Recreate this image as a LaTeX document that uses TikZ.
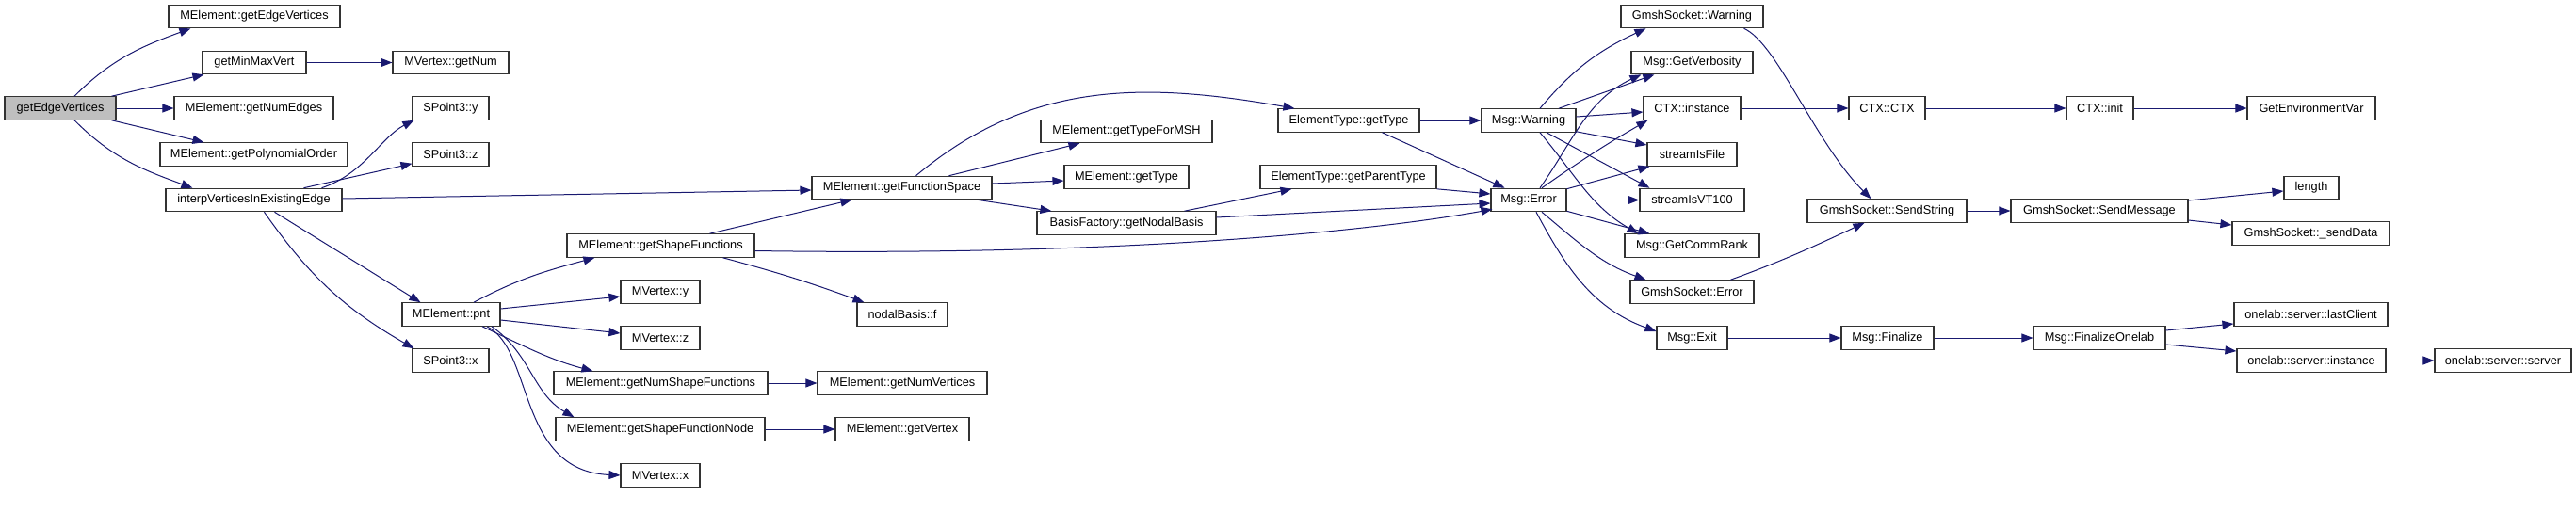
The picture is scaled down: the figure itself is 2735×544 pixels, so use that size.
\documentclass[tikz,border=0pt]{standalone}
\usepackage{fontspec}
\setmainfont{Liberation Sans}
\usetikzlibrary{arrows.meta,calc}
\definecolor{mblue}{RGB}{25,25,112}
\definecolor{rootfill}{RGB}{191,191,191}
\tikzset{
  box/.style={draw=black!80, line width=1.1pt, fill=white, minimum height=24.5pt, inner sep=0pt, font=\fontsize{12.75}{15}\selectfont, text=black},
  edge/.style={draw=mblue, line width=1pt, -{Triangle[length=12pt,width=9pt]}},
}
\begin{document}
\begin{tikzpicture}[x=1pt,y=1pt]
\useasboundingbox[fill=white] (0,0) rectangle (2735,-544);
% nodes
\node[box, fill=rootfill, minimum width=118pt] (gev) at (64,-115) {getEdgeVertices};
\node[box, minimum width=182pt] (mgev) at (270,-17.5) {MElement::getEdgeVertices};
\node[box, minimum width=110pt] (gmmv) at (270,-66.5) {getMinMaxVert};
\node[box, minimum width=169pt] (gne) at (269.5,-115) {MElement::getNumEdges};
\node[box, minimum width=199pt] (gpo) at (269.5,-164) {MElement::getPolynomialOrder};
\node[box, minimum width=187pt] (ive) at (269.5,-212.5) {interpVerticesInExistingEdge};
\node[box, minimum width=123pt] (mvgn) at (478.5,-66.5) {MVertex::getNum};
\node[box, minimum width=81pt] (spy) at (478.5,-115) {SPoint3::y};
\node[box, minimum width=81pt] (spz) at (478.5,-164) {SPoint3::z};
\node[box, minimum width=104pt] (pnt) at (479,-334) {MElement::pnt};
\node[box, minimum width=81pt] (spx) at (478.5,-383) {SPoint3::x};
\node[box, minimum width=191pt] (gfs) at (957.5,-199.5) {MElement::getFunctionSpace};
\node[box, minimum width=199pt] (gsf) at (701.5,-261) {MElement::getShapeFunctions};
\node[box, minimum width=84pt] (mvy) at (701,-310) {MVertex::y};
\node[box, minimum width=84pt] (mvz) at (701,-359) {MVertex::z};
\node[box, minimum width=227pt] (gnsf) at (701.5,-407) {MElement::getNumShapeFunctions};
\node[box, minimum width=222pt] (gsfn) at (701,-456) {MElement::getShapeFunctionNode};
\node[box, minimum width=84pt] (mvx) at (701,-505) {MVertex::x};
\node[box, minimum width=180pt] (gnv) at (958,-407) {MElement::getNumVertices};
\node[box, minimum width=142pt] (gv) at (958,-456) {MElement::getVertex};
\node[box, minimum width=96pt] (nbf) at (958,-334) {nodalBasis::f};
\node[box, minimum width=182pt] (gtfm) at (1196,-139.5) {MElement::getTypeForMSH};
\node[box, minimum width=132pt] (gt) at (1196,-188) {MElement::getType};
\node[box, minimum width=190pt] (gnb) at (1196,-237) {BasisFactory::getNodalBasis};
\node[box, minimum width=150pt] (etgt) at (1432,-128) {ElementType::getType};
\node[box, minimum width=187pt] (etgpt) at (1431.5,-188) {ElementType::getParentType};
\node[box, minimum width=100pt] (mw) at (1623,-128) {Msg::Warning};
\node[box, minimum width=80pt] (me) at (1623,-212.5) {Msg::Error};
\node[box, minimum width=151pt] (gsw) at (1796.5,-17.5) {GmshSocket::Warning};
\node[box, minimum width=129pt] (mgv) at (1796.5,-66.5) {Msg::GetVerbosity};
\node[box, minimum width=103pt] (ctxi) at (1796.5,-115) {CTX::instance};
\node[box, minimum width=95pt] (sif) at (1796.5,-164) {streamIsFile};
\node[box, minimum width=111pt] (sivt) at (1796.5,-212.5) {streamIsVT100};
\node[box, minimum width=143pt] (mgcr) at (1796.5,-261) {Msg::GetCommRank};
\node[box, minimum width=131pt] (gse) at (1796.5,-310) {GmshSocket::Error};
\node[box, minimum width=75pt] (mex) at (1796.5,-359) {Msg::Exit};
\node[box, minimum width=81pt] (ctxc) at (2003.5,-115) {CTX::CTX};
\node[box, minimum width=71pt] (ctxinit) at (2229.5,-115) {CTX::init};
\node[box, minimum width=136pt] (genv) at (2454,-115) {GetEnvironmentVar};
\node[box, minimum width=169pt] (gss) at (2003.5,-224) {GmshSocket::SendString};
\node[box, minimum width=188pt] (gsm) at (2229,-224) {GmshSocket::SendMessage};
\node[box, minimum width=58pt] (len) at (2454,-199.5) {length};
\node[box, minimum width=167pt] (gssd) at (2453.5,-248) {GmshSocket::\_sendData};
\node[box, minimum width=98pt] (mfin) at (2004,-359) {Msg::Finalize};
\node[box, minimum width=140pt] (mfo) at (2229,-359) {Msg::FinalizeOnelab};
\node[box, minimum width=163pt] (olc) at (2453.5,-334) {onelab::server::lastClient};
\node[box, minimum width=158pt] (osi) at (2454,-383) {onelab::server::instance};
\node[box, minimum width=145pt] (oss) at (2657.5,-383) {onelab::server::server};
% edges
\draw[edge] ($(gev.north)+(15,0)$) to[out=45,in=200] ($(mgev.south west)+(24,0)$);
\draw[edge] ($(gev.north east)+(-5,0)$) -- ($(gmmv.south west)+(2,0)$);
\draw[edge] (gev.east) -- (gne.west);
\draw[edge] ($(gev.south east)+(-5,0)$) -- ($(gpo.north west)+(47,0)$);
\draw[edge] ($(gev.south)+(15,0)$) to[out=-45,in=160] ($(ive.north west)+(29,0)$);
\draw[edge] (gmmv.east) -- (mvgn.west);
\draw[edge] ($(ive.north)+(72,0)$) .. controls +(45,15) and +(-35,-18) .. ($(spy.south west)+(2,0)$);
\draw[edge] ($(ive.north)+(53,0)$) -- ($(spz.south west)+(0,3)$);
\draw[edge] ($(ive.east)+(0,1.5)$) -- ($(gfs.west)+(0,-2.5)$);
\draw[edge] ($(ive.south)+(22,0)$) -- ($(pnt.north west)+(20,0)$);
\draw[edge] ($(ive.south)+(11,0)$) to[out=-55,in=150] ($(spx.north west)+(2,0)$);
\draw[edge] ($(pnt.north)+(24,0)$) to[out=28,in=195] ($(gsf.south west)+(30,0)$);
\draw[edge] ($(pnt.east)+(0,6)$) -- ($(mvy.west)+(0,-5)$);
\draw[edge] ($(pnt.east)+(0,-6)$) -- ($(mvz.west)+(0,5)$);
\draw[edge] ($(pnt.south)+(33,0)$) to[out=-25,in=165] ($(gnsf.north west)+(42,0)$);
\draw[edge] ($(pnt.south)+(43,0)$) to[out=-35,in=150] ($(gsfn.north west)+(20,0)$);
\draw[edge] ($(pnt.south)+(38,0)$) .. controls +(50,-25) and +(-110,5) .. (mvx.west);
\draw[edge] ($(gsf.north)+(52,0)$) -- ($(gfs.south west)+(43,0)$);
\draw[edge] ($(gsf.east)+(0,-5.5)$) .. controls +(400,-6) and +(-120,-22) .. ($(me.south west)+(2,3)$);
\draw[edge] ($(gsf.south)+(66,0)$) to[out=-15,in=160] ($(nbf.north west)+(8,0)$);
\draw[edge] (gnsf.east) -- (gnv.west);
\draw[edge] (gsfn.east) -- (gv.west);
\draw[edge] ($(gfs.north)+(15,0)$) to[out=40,in=170] ($(etgt.north west)+(18,0)$);
\draw[edge] ($(gfs.north)+(50,0)$) -- ($(gtfm.south west)+(42,0)$);
\draw[edge] ($(gfs.east)+(0,4.5)$) -- ($(gt.west)+(0,-4)$);
\draw[edge] ($(gfs.south east)+(-16,0)$) -- ($(gnb.north west)+(16,0)$);
\draw[edge] ($(gnb.north east)+(-34,0)$) -- ($(etgpt.south west)+(34,0)$);
\draw[edge] ($(gnb.east)+(0,6)$) -- ($(me.west)+(0,-3.5)$);
\draw[edge] (etgt.east) -- (mw.west);
\draw[edge] ($(etgt.south east)+(-40,0)$) -- ($(me.north west)+(15,0)$);
\draw[edge] (etgpt.south east) -- ($(me.west)+(0,6.5)$);
\draw[edge] ($(mw.north)+(12,0)$) to[out=50,in=205] ($(gsw.south west)+(27,0)$);
\draw[edge] ($(mw.north)+(32,0)$) -- ($(mgv.south west)+(25,0)$);
\draw[edge] ($(mw.east)+(0,4)$) -- ($(ctxi.west)+(0,-4)$);
\draw[edge] ($(mw.south east)+(0,1)$) -- ($(sif.west)+(0,10)$);
\draw[edge] ($(mw.south)+(19,0)$) -- ($(sivt.north west)+(11,0)$);
\draw[edge] ($(mw.south)+(12,0)$) to[out=-50,in=150] ($(mgcr.north west)+(15,0)$);
\draw[edge] ($(me.north)+(12,0)$) to[out=55,in=205] ($(mgv.south west)+(11,0)$);
\draw[edge] ($(me.north)+(14,0)$) to[out=35,in=210] ($(ctxi.south west)+(5,0)$);
\draw[edge] ($(me.north east)+(0,-1)$) -- ($(sif.south west)+(3,0)$);
\draw[edge] (me.east) -- (sivt.west);
\draw[edge] ($(me.south east)+(0,1)$) -- ($(mgcr.north west)+(27,0)$);
\draw[edge] ($(me.south)+(14,0)$) to[out=-40,in=160] ($(gse.north west)+(17,0)$);
\draw[edge] ($(me.south)+(8,0)$) to[out=-62,in=160] ($(mex.west)+(0,7)$);
\draw[edge] ($(gsw.south)+(55,0)$) .. controls +(35,-15) and +(-60,60) .. ($(gss.north)+(-17,0)$);
\draw[edge] ($(gse.north)+(41,0)$) to[out=20,in=205] ($(gss.south west)+(61,0)$);
\draw[edge] (ctxi.east) -- (ctxc.west);
\draw[edge] (ctxc.east) -- (ctxinit.west);
\draw[edge] (ctxinit.east) -- (genv.west);
\draw[edge] (gss.east) -- (gsm.west);
\draw[edge] ($(gsm.east)+(0,11)$) -- ($(len.west)+(0,-3.5)$);
\draw[edge] ($(gsm.east)+(0,-10)$) -- ($(gssd.west)+(0,9)$);
\draw[edge] (mex.east) -- (mfin.west);
\draw[edge] (mfin.east) -- (mfo.west);
\draw[edge] ($(mfo.east)+(0,8)$) -- ($(olc.west)+(0,-10)$);
\draw[edge] ($(mfo.east)+(0,-7)$) -- ($(osi.west)+(0,10)$);
\draw[edge] (osi.east) -- (oss.west);
\end{tikzpicture}
\end{document}
